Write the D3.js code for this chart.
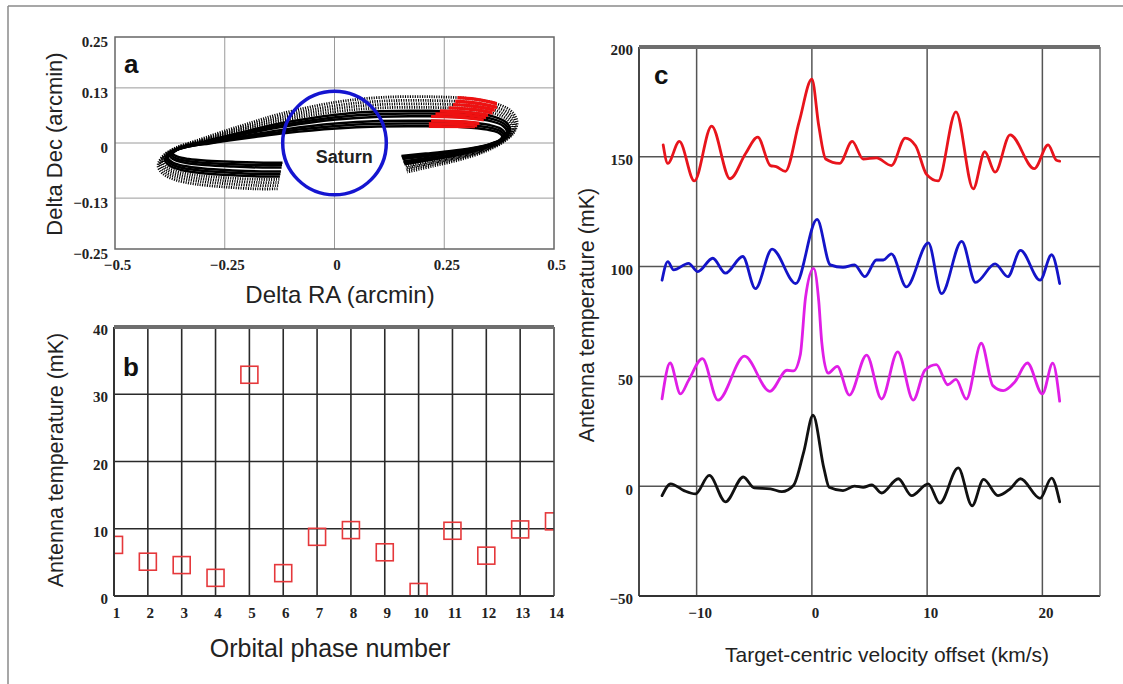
<!DOCTYPE html>
<html><head><meta charset="utf-8">
<script src="https://cdn.jsdelivr.net/npm/d3@7"></script>
<style>body{margin:0;background:#fff}svg{display:block}</style>
</head><body>
<svg id="chart" width="1123" height="684"></svg>
<script>
// ---------------- DATA ----------------
// Panel a: sky-plane track of the target around Saturn (arcmin)
const raTicks = [-0.5, -0.25, 0, 0.25, 0.5];
const raTickLabels = ["\u22120.5", "\u22120.25", "0", "0.25", "0.5"];
const decTicks = [-0.25, -0.13, 0, 0.13, 0.25];
const decTickLabels = ["\u22120.25", "\u22120.13", "0", "0.13", "0.25"];
// centre line of the orbit band [RA, Dec]
const orbitTrack = [
  [-0.125,-0.078],[-0.170,-0.078],[-0.238,-0.075],[-0.306,-0.070],[-0.350,-0.063],[-0.377,-0.053],
  [-0.388,-0.040],
  [-0.378,-0.024],[-0.350,-0.010],[-0.300,0.003],[-0.250,0.016],[-0.192,0.030],[-0.117,0.047],
  [0.003,0.066],[0.104,0.074],[0.218,0.075],[0.309,0.071],[0.366,0.061],[0.392,0.049],
  [0.402,0.033],
  [0.396,0.017],[0.374,0.001],[0.331,-0.016],[0.274,-0.030],[0.218,-0.040],[0.160,-0.050]
];
const trackCentre = [0.007, -0.006];
const trackScaleRA  = [0.95, 0.958, 0.966, 0.978, 0.986, 0.995, 1.005, 1.015, 1.025, 1.035];
const trackScaleDec = [0.56, 0.64, 0.72, 0.85, 0.93, 1.01, 1.11, 1.21, 1.31, 1.42];
const trackDotted   = [false, false, false, false, false, false, true, true, true, true];
const trackRedStart = [0.215, 0.215, 0.22, 0.22, 0.23, 0.24, 0.26, 0.27, 0.275, 0.28];
const trackRedEnd   = [0.32, 0.325, 0.33, 0.34, 0.345, 0.35, 0.36, 0.365, 0.37, 0.37];
const saturnCentre = [0, 0];
const saturnRadius = 0.118;

// Panel b: antenna temperature per orbital phase
const phaseNumbers = [1,2,3,4,5,6,7,8,9,10,11,12,13,14];
const phaseTemps   = [7.6,5.1,4.6,2.7,32.9,3.4,8.8,9.8,6.5,0.6,9.7,6.0,9.9,11.1];
const tempTicksB = [0,10,20,30,40];

// Panel c: spectra [velocity km/s, antenna temperature mK]
const velTicks = [-10, 0, 10, 20];
const velTickLabels = ["\u221210", "0", "10", "20"];
const tempTicksC = [-50, 0, 50, 100, 150, 200];
const tempTickLabelsC = ["\u221250", "0", "50", "100", "150", "200"];
const redSpectrum = [
  [-12.9,155.4],[-12.5,147],[-11.5,157],[-10.2,139],[-8.7,164],[-7.1,140],[-5.75,151.5],[-4.7,159],
  [-3.6,146],[-3.1,145.5],[-2.3,143.4],[-1.1,166],[0,185.4],[0.6,164],[1.2,149],[2.4,147],[3.5,157],
  [4.45,149],[5.6,149.5],[6.9,146],[8.1,158.5],[9.0,155],[9.95,142],[10.95,139],[12.5,170.5],
  [14.0,135.4],[15.0,152.3],[15.9,143],[17.2,160],[19.3,144.6],[20.5,155.4],[21.2,148.5],[21.5,148]
];
const blueSpectrum = [
  [-13.0,93.8],[-12.5,102.3],[-12.0,98.5],[-10.7,101.5],[-9.9,97.7],[-8.6,103.8],[-7.5,97],[-6.0,104.6],
  [-4.9,90],[-3.45,108],[-1.4,92.3],[0.45,121.5],[1.6,100.8],[2.7,99.7],[3.7,100.8],[4.6,95.4],
  [5.6,103],[6.2,103],[6.9,105.8],[8.2,90.8],[10.1,110.8],[11.25,87.7],[13.0,111.5],[14.2,92.8],
  [15.9,101.2],[17.0,95.4],[18.1,107.4],[19.8,93.8],[20.8,105.4],[21.5,92.3]
];
const magentaSpectrum = [
  [-13.0,39.8],[-12.3,56.1],[-11.4,42],[-10.7,48.2],[-9.5,58.1],[-8.15,39.2],[-5.85,59.2],[-3.65,43.2],
  [-2.15,52.8],[-1.6,52.5],[-1.0,60],[-0.55,86],[0.15,99.2],[0.6,84],[0.85,66],[1.4,51.5],[2.2,54.6],
  [3.25,41.5],[4.75,59.7],[6.05,39.7],[7.45,61.2],[8.8,39.2],[9.8,52.8],[10.8,55.4],[11.8,46.2],
  [12.5,48.6],[13.4,39.7],[14.7,65.1],[15.7,45.8],[16.6,43.5],[17.6,47.4],[18.7,56.1],[20.0,42],
  [20.9,56],[21.5,38.7]
];
const blackSpectrum = [
  [-13.0,-4.3],[-12.25,1.1],[-11.1,-2],[-10.1,-3.5],[-8.9,4.9],[-7.5,-7.1],[-5.95,4.2],[-5.0,-0.8],
  [-3.6,-1.2],[-2.6,-2.5],[-1.6,0.3],[-0.7,15.7],[0.1,32.3],[1.05,8],[1.5,-0.5],[2.7,-2],[3.7,0],
  [4.45,-0.5],[5.2,0.6],[6.05,-3.1],[7.5,3.4],[8.65,-4.3],[10.1,1.1],[11.1,-7.7],[12.7,8.3],
  [13.9,-8.9],[14.9,3.1],[16.15,-4.3],[17.2,-1.2],[18.1,3.4],[19.8,-5.5],[20.8,3.7],[21.5,-7.1]
];
const spectra = [
  {name:"red", values: redSpectrum, color:"#e8141c"},
  {name:"blue", values: blueSpectrum, color:"#1414c8"},
  {name:"magenta", values: magentaSpectrum, color:"#e01ee6"},
  {name:"black", values: blackSpectrum, color:"#111111"}
];

// ---------------- DRAWING ----------------
const svg = d3.select("#chart");
const SERIF = "'Liberation Serif','Times New Roman',serif";
const SANS = "'Liberation Sans',Arial,sans-serif";

// outer frame
svg.append("line").attr("x1",8).attr("x2",1123).attr("y1",6).attr("y2",6).attr("stroke","#8a8a8a").attr("stroke-width",1.5);
svg.append("line").attr("x1",8).attr("x2",8).attr("y1",6).attr("y2",684).attr("stroke","#8a8a8a").attr("stroke-width",1.5);

function styleTicks(sel){
  sel.selectAll("text").attr("font-family",SERIF).attr("font-weight","bold").attr("font-size",15).attr("fill","#222");
  sel.select(".domain").remove();
}
function title(text, x, y, size, rotate){
  svg.append("text").attr("transform",`translate(${x},${y})${rotate?" rotate(-90)":""}`)
    .attr("text-anchor","middle").attr("font-family",SANS).attr("font-size",size).attr("fill","#222").text(text);
}

// ===== Panel a =====
const xA = d3.scaleLinear().domain([-0.5,0.5]).range([115,554]);
const yA = d3.scaleLinear().domain([-0.25,0.25]).range([249,37]);
const gA = svg.append("g");
gA.append("g").selectAll("line").data(raTicks.slice(1,-1)).join("line")
  .attr("x1",d=>xA(d)).attr("x2",d=>xA(d)).attr("y1",yA(0.25)).attr("y2",yA(-0.25)).attr("stroke","#9a9a9a").attr("stroke-width",1);
gA.append("g").selectAll("line").data(decTicks.slice(1,-1)).join("line")
  .attr("y1",d=>yA(d)).attr("y2",d=>yA(d)).attr("x1",xA(-0.5)).attr("x2",xA(0.5)).attr("stroke","#9a9a9a").attr("stroke-width",1);

const trackLine = d3.line().x(d=>xA(d[0])).y(d=>yA(d[1])).curve(d3.curveCatmullRom.alpha(0.5));
const defs = svg.append("defs");
trackScaleRA.forEach((sx,i)=>{
  const sy = trackScaleDec[i];
  const pts = orbitTrack.map(([ra,dec])=>[trackCentre[0]+sx*(ra-trackCentre[0]), trackCentre[1]+sy*(dec-trackCentre[1])]);
  const p = gA.append("path").attr("d",trackLine(pts)).attr("fill","none").attr("stroke","#000");
  if(trackDotted[i]) p.attr("stroke-width",2.8).attr("stroke-dasharray","1.1 1.3");
  else p.attr("stroke-width",2.5);
  const cid = "redclip"+i;
  defs.append("clipPath").attr("id",cid).append("rect")
    .attr("x",xA(trackRedStart[i])).attr("width",xA(trackRedEnd[i])-xA(trackRedStart[i]))
    .attr("y",yA(0.14)).attr("height",yA(0.035)-yA(0.14));
  gA.append("path").attr("d",trackLine(pts)).attr("fill","none").attr("stroke","#ee1111")
    .attr("stroke-width",3.4).attr("clip-path",`url(#${cid})`);
});
gA.append("circle").attr("cx",xA(saturnCentre[0])).attr("cy",yA(saturnCentre[1]))
  .attr("r",xA(saturnRadius)-xA(0)).attr("fill","none").attr("stroke","#1515d0").attr("stroke-width",3.5);
gA.append("text").attr("x",xA(0.022)).attr("y",yA(-0.047)).attr("text-anchor","middle")
  .attr("font-family",SANS).attr("font-weight","bold").attr("font-size",18).attr("fill","#222").text("Saturn");
gA.append("rect").attr("x",xA(-0.5)).attr("y",yA(0.25)).attr("width",xA(0.5)-xA(-0.5)).attr("height",yA(-0.25)-yA(0.25))
  .attr("fill","none").attr("stroke","#666").attr("stroke-width",1.5);
gA.append("text").attr("x",124).attr("y",73).attr("font-family",SANS).attr("font-weight","bold").attr("font-size",26).attr("fill","#111").text("a");
const axAx = svg.append("g").attr("transform",`translate(0,${yA(-0.25)})`)
  .call(d3.axisBottom(xA).tickValues(raTicks).tickFormat((d,i)=>raTickLabels[i]).tickSize(0).tickPadding(10));
styleTicks(axAx); axAx.selectAll("text").attr("dx",2);
const axAy = svg.append("g").attr("transform",`translate(${xA(-0.5)-7},0)`)
  .call(d3.axisLeft(yA).tickValues(decTicks).tickFormat((d,i)=>decTickLabels[i]).tickSize(0).tickPadding(0));
styleTicks(axAy); axAy.selectAll("text").attr("dy","0.62em");
title("Delta Dec (arcmin)", 62, 144, 22, true);
title("Delta RA (arcmin)", 340, 303, 24, false);

// ===== Panel b =====
const xB = d3.scaleLinear().domain([1,14]).range([114,554]);
const yB = d3.scaleLinear().domain([0,40]).range([596,327]);
const gB = svg.append("g");
gB.append("g").selectAll("line").data(phaseNumbers.slice(1,-1)).join("line")
  .attr("x1",d=>xB(d)).attr("x2",d=>xB(d)).attr("y1",yB(40)).attr("y2",yB(0)).attr("stroke","#2a2a2a").attr("stroke-width",1.6);
gB.append("g").selectAll("line").data(tempTicksB.slice(1,-1)).join("line")
  .attr("y1",d=>yB(d)).attr("y2",d=>yB(d)).attr("x1",xB(1)).attr("x2",xB(14)).attr("stroke","#2a2a2a").attr("stroke-width",1.6);
defs.append("clipPath").attr("id","clipB").append("rect")
  .attr("x",xB(1)).attr("y",yB(40)).attr("width",xB(14)-xB(1)).attr("height",yB(0)-yB(40));
gB.append("g").attr("clip-path","url(#clipB)").selectAll("rect").data(phaseNumbers).join("rect")
  .attr("x",d=>xB(d)-8.5).attr("y",(d,i)=>yB(phaseTemps[i])-8.5).attr("width",17).attr("height",17)
  .attr("fill","none").attr("stroke","#e5383b").attr("stroke-width",1.6);
// frame
gB.append("line").attr("x1",xB(1)).attr("x2",xB(14)).attr("y1",yB(0)).attr("y2",yB(0)).attr("stroke","#333").attr("stroke-width",2);
gB.append("line").attr("x1",xB(1)).attr("x2",xB(1)).attr("y1",yB(0)).attr("y2",yB(40)).attr("stroke","#333").attr("stroke-width",2);
gB.append("line").attr("x1",xB(14)).attr("x2",xB(14)).attr("y1",yB(0)).attr("y2",yB(40)).attr("stroke","#444").attr("stroke-width",1.6);
gB.append("line").attr("x1",xB(1)).attr("x2",xB(14)).attr("y1",yB(40)).attr("y2",yB(40)).attr("stroke","#6e6e6e").attr("stroke-width",4);
gB.append("text").attr("x",123).attr("y",376).attr("font-family",SANS).attr("font-weight","bold").attr("font-size",26).attr("fill","#111").text("b");
const axBx = svg.append("g").attr("transform",`translate(0,${yB(0)})`)
  .call(d3.axisBottom(xB).tickValues(phaseNumbers).tickFormat(d3.format("d")).tickSize(0).tickPadding(11));
styleTicks(axBx); axBx.selectAll("text").attr("dx",2);
const axBy = svg.append("g").attr("transform",`translate(${xB(1)-6},0)`)
  .call(d3.axisLeft(yB).tickValues(tempTicksB).tickFormat(d3.format("d")).tickSize(0).tickPadding(0));
styleTicks(axBy); axBy.selectAll("text").attr("dy","0.5em");
title("Antenna temperature (mK)", 63, 460, 21.5, true);
title("Orbital phase number", 330, 657, 25, false);

// ===== Panel c =====
const xC = d3.scaleLinear().domain([-15,25]).range([639,1100]);
const yC = d3.scaleLinear().domain([-50,200]).range([596,47]);
const gC = svg.append("g");
gC.append("g").selectAll("line").data(velTicks).join("line")
  .attr("x1",d=>xC(d)).attr("x2",d=>xC(d)).attr("y1",yC(200)).attr("y2",yC(-50)).attr("stroke","#555").attr("stroke-width",1.5);
gC.append("g").selectAll("line").data(tempTicksC.slice(1,-1)).join("line")
  .attr("y1",d=>yC(d)).attr("y2",d=>yC(d)).attr("x1",xC(-15)).attr("x2",xC(25)).attr("stroke","#555").attr("stroke-width",1.5);
const specLine = d3.line().x(d=>xC(d[0])).y(d=>yC(d[1])).curve(d3.curveMonotoneX);
gC.append("g").selectAll("path").data(spectra).join("path")
  .attr("d",d=>specLine(d.values)).attr("fill","none").attr("stroke",d=>d.color)
  .attr("stroke-width",2.8).attr("stroke-linejoin","round").attr("stroke-linecap","round");
gC.append("line").attr("x1",xC(-15)).attr("x2",xC(25)).attr("y1",yC(-50)).attr("y2",yC(-50)).attr("stroke","#333").attr("stroke-width",2);
gC.append("line").attr("x1",xC(-15)).attr("x2",xC(-15)).attr("y1",yC(-50)).attr("y2",yC(200)).attr("stroke","#333").attr("stroke-width",1.8);
gC.append("line").attr("x1",xC(25)).attr("x2",xC(25)).attr("y1",yC(-50)).attr("y2",yC(200)).attr("stroke","#666").attr("stroke-width",1.4);
gC.append("line").attr("x1",xC(-15)).attr("x2",xC(25)).attr("y1",yC(200)).attr("y2",yC(200)).attr("stroke","#6e6e6e").attr("stroke-width",4);
gC.append("text").attr("x",654).attr("y",84).attr("font-family",SANS).attr("font-weight","bold").attr("font-size",26).attr("fill","#111").text("c");
const axCx = svg.append("g").attr("transform",`translate(0,${yC(-50)})`)
  .call(d3.axisBottom(xC).tickValues(velTicks).tickFormat((d,i)=>velTickLabels[i]).tickSize(0).tickPadding(11));
styleTicks(axCx); axCx.selectAll("text").attr("dx",3);
const axCy = svg.append("g").attr("transform",`translate(${xC(-15)-6},0)`)
  .call(d3.axisLeft(yC).tickValues(tempTicksC).tickFormat((d,i)=>tempTickLabelsC[i]).tickSize(0).tickPadding(0));
styleTicks(axCy); axCy.selectAll("text").attr("dy","0.52em");
title("Antenna temperature (mK)", 594, 315, 21.5, true);
title("Target-centric velocity offset (km/s)", 887, 662, 21, false);
</script>
</body></html>
